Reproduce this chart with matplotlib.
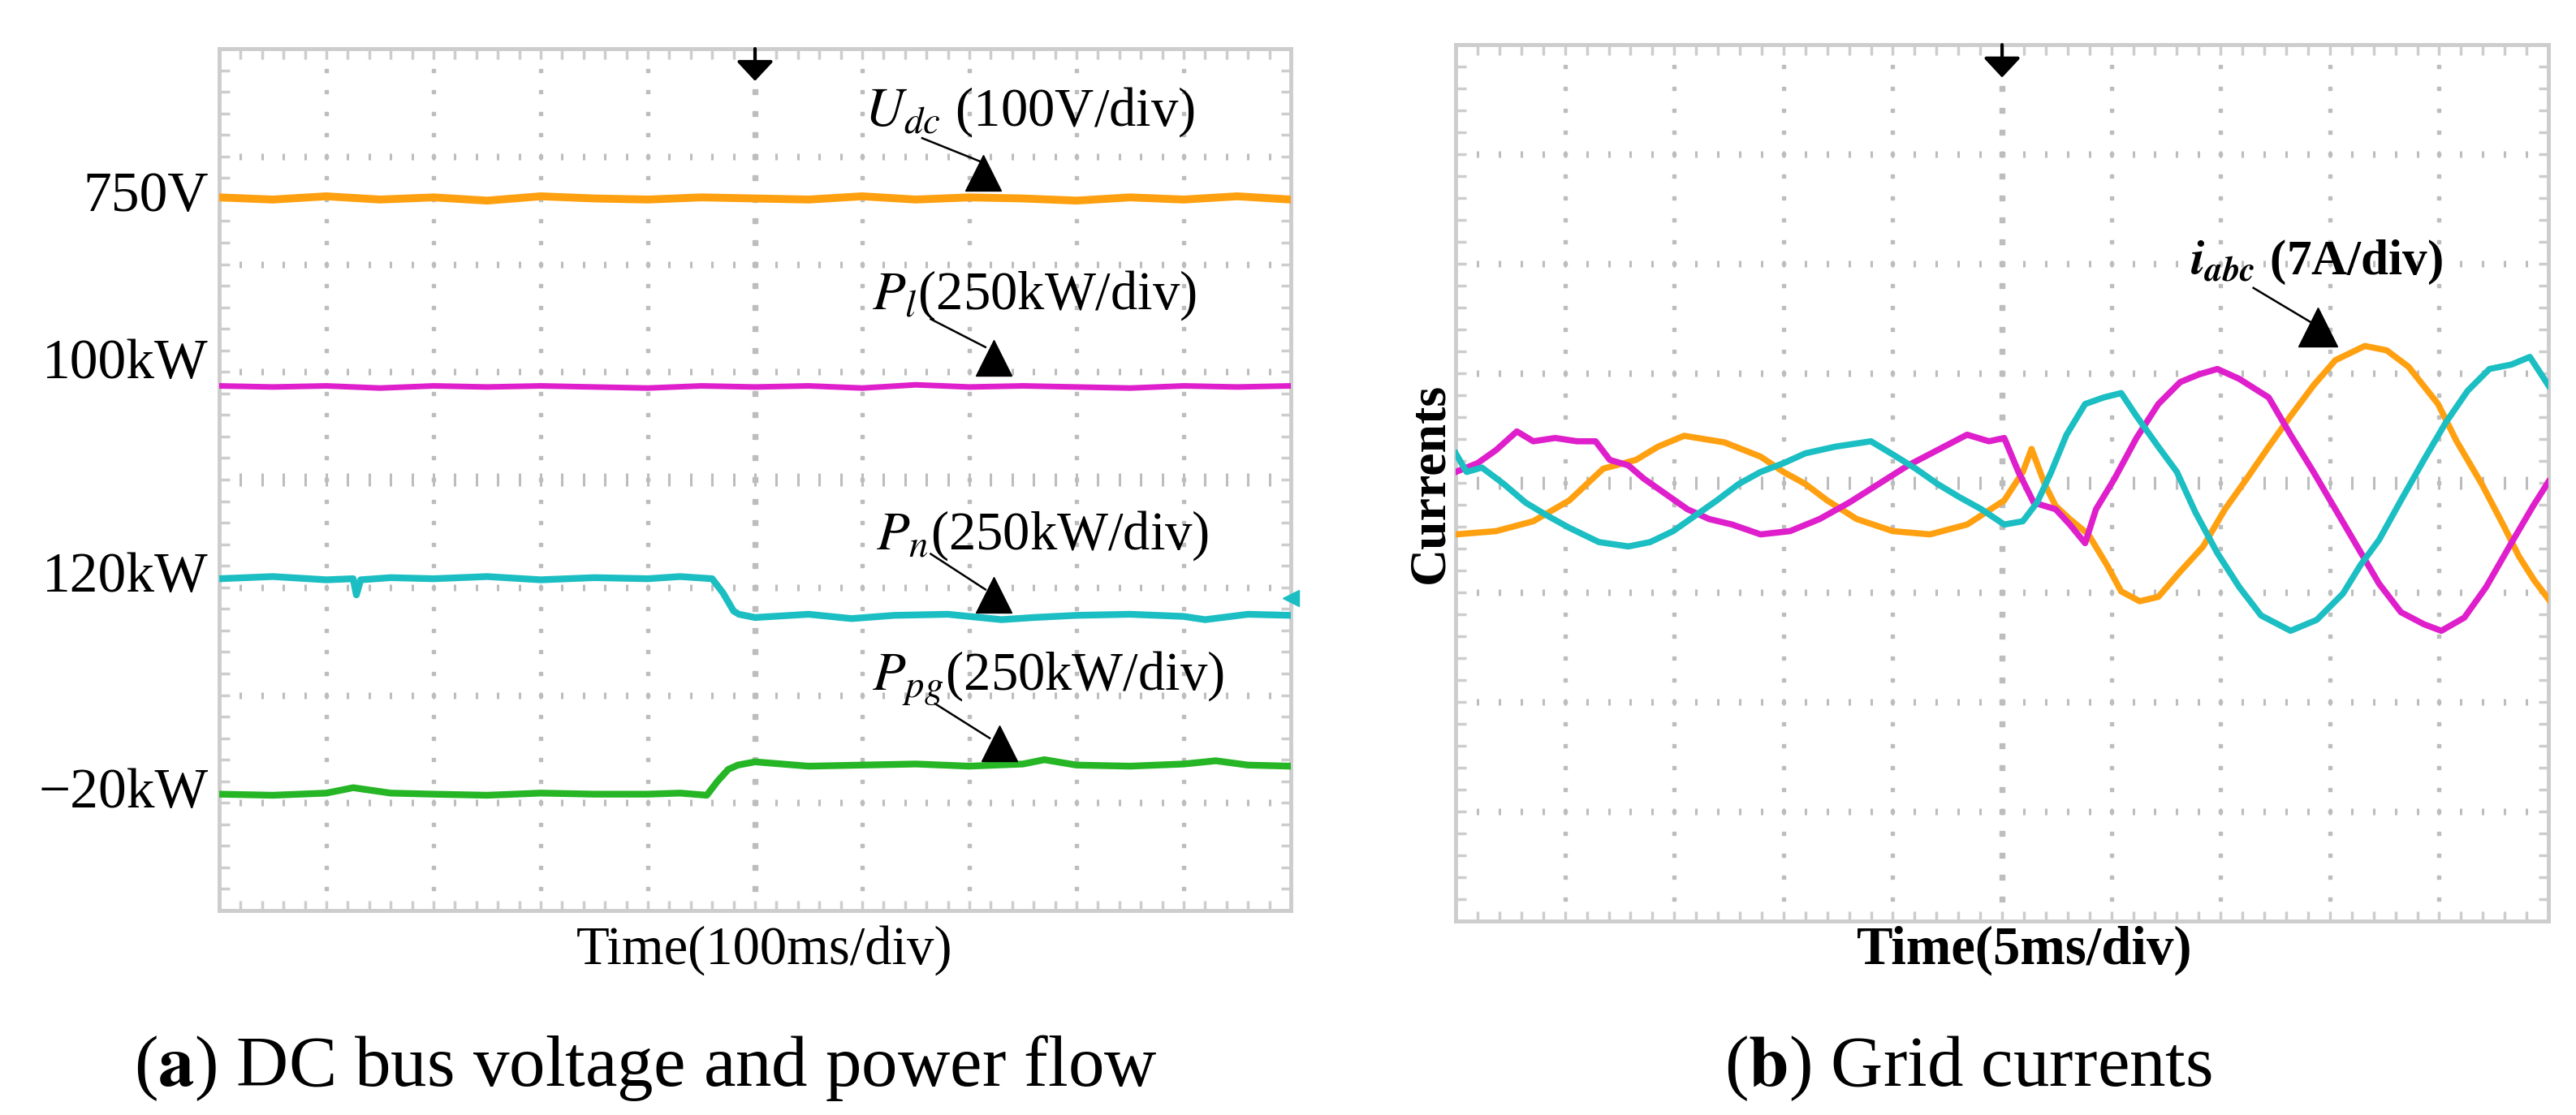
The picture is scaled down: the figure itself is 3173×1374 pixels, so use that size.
import numpy as np
import matplotlib.pyplot as plt

plt.rcParams['font.family'] = ['Liberation Serif', 'DejaVu Serif']
plt.rcParams['mathtext.fontset'] = 'stix'

# ---- (a) DC bus voltage and power flow, values in scope divisions (0..10 x, 0..8 y) ----
udc_t = [0, 0.5, 1, 1.5, 2, 2.5, 3, 3.5, 4, 4.5, 5, 5.5, 6, 6.5, 7, 7.5, 8, 8.5, 9, 9.5, 10]
udc_v = [6.62, 6.60, 6.63, 6.60, 6.62, 6.59, 6.63, 6.61, 6.60, 6.62, 6.61, 6.60, 6.63, 6.60, 6.62,
         6.61, 6.59, 6.62, 6.60, 6.63, 6.60]

pl_t = [0, 0.5, 1, 1.5, 2, 2.5, 3, 3.5, 4, 4.5, 5, 5.5, 6, 6.5, 7, 7.5, 8, 8.5, 9, 9.5, 10]
pl_v = [4.87, 4.86, 4.87, 4.85, 4.87, 4.86, 4.87, 4.86, 4.85, 4.87, 4.86, 4.87, 4.85, 4.88, 4.86,
        4.87, 4.86, 4.85, 4.87, 4.86, 4.87]

pn_t = [0, 0.5, 1.0, 1.25, 1.28, 1.32, 1.6, 2.0, 2.5, 3.0, 3.5, 4.0, 4.3, 4.6, 4.7, 4.8, 4.85,
        5.0, 5.5, 5.9, 6.3, 6.8, 7.3, 7.6, 8.0, 8.5, 9.0, 9.2, 9.6, 10.0]
pn_v = [3.08, 3.10, 3.07, 3.08, 2.93, 3.07, 3.09, 3.08, 3.10, 3.07, 3.09, 3.08, 3.10, 3.08, 2.95,
        2.78, 2.75, 2.72, 2.75, 2.71, 2.74, 2.75, 2.70, 2.72, 2.74, 2.75, 2.73, 2.70, 2.75, 2.74]

ppg_t = [0, 0.5, 1.0, 1.25, 1.6, 2.0, 2.5, 3.0, 3.5, 4.0, 4.3, 4.55, 4.65, 4.75, 4.84, 5.0, 5.5,
         6.0, 6.5, 7.0, 7.5, 7.7, 8.0, 8.5, 9.0, 9.3, 9.6, 10.0]
ppg_v = [1.08, 1.07, 1.09, 1.14, 1.09, 1.08, 1.07, 1.09, 1.08, 1.08, 1.09, 1.07, 1.20, 1.31, 1.35,
         1.38, 1.34, 1.35, 1.36, 1.34, 1.36, 1.40, 1.35, 1.34, 1.36, 1.39, 1.35, 1.34]

level_labels = ['750V', '100kW', '120kW', '\u221220kW']
level_pos = [6.62, 5.07, 3.09, 1.08]

# ---- (b) grid currents, divisions from centre line ----
ia_t = [0.00, 0.37, 0.71, 1.04, 1.35, 1.65, 1.85, 2.09, 2.46, 2.79, 3.00, 3.20, 3.40, 3.67, 4.00,
        4.34, 4.68, 5.02, 5.19, 5.27, 5.39, 5.49, 5.62, 5.79, 5.96, 6.09, 6.26, 6.43, 6.63, 6.84,
        7.04, 7.24, 7.44, 7.64, 7.85, 8.05, 8.32, 8.52, 8.72, 8.99, 9.16, 9.39, 9.60, 9.73, 9.87, 10.0]
ia_v = [-0.47, -0.44, -0.35, -0.16, 0.13, 0.21, 0.33, 0.43, 0.37, 0.24, 0.10, -0.01, -0.16, -0.33,
        -0.44, -0.47, -0.38, -0.16, 0.10, 0.31, -0.01, -0.21, -0.33, -0.47, -0.75, -0.99, -1.08,
        -1.04, -0.81, -0.58, -0.24, 0.04, 0.33, 0.61, 0.89, 1.12, 1.25, 1.21, 1.06, 0.72, 0.38,
        -0.01, -0.41, -0.67, -0.89, -1.06]

ib_t = [0.00, 0.10, 0.24, 0.44, 0.64, 0.84, 1.04, 1.31, 1.58, 1.78, 1.99, 2.19, 2.39, 2.59, 2.79,
        3.00, 3.20, 3.47, 3.80, 4.00, 4.21, 4.41, 4.61, 4.81, 5.02, 5.19, 5.32, 5.45, 5.59, 5.76,
        5.93, 6.09, 6.23, 6.43, 6.60, 6.77, 6.97, 7.17, 7.37, 7.64, 7.88, 8.12, 8.28, 8.45, 8.65,
        8.86, 9.06, 9.26, 9.46, 9.66, 9.83, 10.0]
ib_v = [0.27, 0.10, 0.14, -0.01, -0.18, -0.30, -0.41, -0.54, -0.58, -0.54, -0.44, -0.30, -0.16,
        -0.01, 0.10, 0.18, 0.27, 0.33, 0.38, 0.26, 0.13, -0.01, -0.13, -0.24, -0.38, -0.35, -0.18,
        0.10, 0.44, 0.72, 0.78, 0.82, 0.61, 0.33, 0.10, -0.27, -0.64, -0.95, -1.21, -1.35, -1.25,
        -1.01, -0.75, -0.52, -0.16, 0.21, 0.55, 0.84, 1.04, 1.08, 1.15, 0.89]

ic_t = [0.00, 0.20, 0.37, 0.56, 0.71, 0.91, 1.11, 1.28, 1.41, 1.58, 1.72, 1.92, 2.12, 2.32, 2.53,
        2.79, 3.06, 3.33, 3.60, 3.87, 4.14, 4.41, 4.68, 4.88, 5.02, 5.15, 5.29, 5.49, 5.62, 5.76,
        5.86, 6.03, 6.23, 6.43, 6.63, 6.80, 6.97, 7.17, 7.44, 7.64, 7.85, 8.05, 8.25, 8.45, 8.65,
        8.86, 9.02, 9.23, 9.43, 9.66, 9.86, 10.0]
ic_v = [0.10, 0.18, 0.30, 0.47, 0.38, 0.41, 0.38, 0.38, 0.21, 0.16, 0.04, -0.10, -0.24, -0.33,
        -0.38, -0.47, -0.44, -0.33, -0.18, -0.01, 0.16, 0.30, 0.44, 0.38, 0.41, 0.10, -0.18, -0.24,
        -0.38, -0.55, -0.24, 0.04, 0.41, 0.72, 0.92, 0.99, 1.04, 0.95, 0.78, 0.44, 0.10, -0.24,
        -0.58, -0.92, -1.18, -1.29, -1.35, -1.23, -0.95, -0.55, -0.21, 0.01]

ORANGE = '#FFA010'
PINK = '#DE1FCB'
CYAN = '#1BBEC2'
GREEN = '#25B525'
GRID = '#BDBDBD'
FRAME = '#CDCDCD'


def scope_grid(ax):
    ax.set_xlim(0, 10)
    ax.set_ylim(0, 8)
    ax.set_xticks(np.arange(0, 10.01, 1))
    ax.set_yticks(np.arange(0, 8.01, 1))
    ax.set_xticks(np.arange(0, 10.01, 0.2), minor=True)
    ax.set_yticks(np.arange(0, 8.01, 0.2), minor=True)
    ax.set_xticklabels([])
    ax.set_yticklabels([])
    ax.tick_params(which='both', direction='in', top=True, right=True,
                   length=9, width=2.5, color=FRAME)
    for s in ax.spines.values():
        s.set_color(FRAME)
        s.set_linewidth(3.5)
    fine_y = np.arange(0.2, 7.9, 0.2)
    fine_x = np.arange(0.2, 9.9, 0.2)
    for k in range(1, 10):
        big = k == 5
        ax.plot([k] * len(fine_y), fine_y, ls='none', marker='s',
                ms=5 if big else 3.2, color=GRID, zorder=1)
    for j in range(1, 8):
        big = j == 4
        ax.plot(fine_x, [j] * len(fine_x), ls='none', marker='|',
                ms=11 if big else 6, mew=2.2, color=GRID, zorder=1)
    # trigger marker
    ax.annotate('', xy=(5, 7.7), xytext=(5, 8.0),
                arrowprops=dict(arrowstyle='-|>,head_length=0.75,head_width=0.7',
                                lw=3, color='black', mutation_scale=20, shrinkA=0, shrinkB=0),
                annotation_clip=False)


def pointer(ax, x0, y0, x1, y1, tri_x, tri_y, size=32):
    ax.plot([x0, x1], [y0, y1], color='black', lw=1.8, zorder=6, clip_on=False)
    ax.plot([tri_x], [tri_y], marker='^', ms=size, color='black', zorder=6, clip_on=False)


fig = plt.figure(figsize=(31.73, 13.74), dpi=100)
ax1 = fig.add_axes([0.0851, 0.1834, 0.4160, 0.7729])
ax2 = fig.add_axes([0.5651, 0.1739, 0.4242, 0.7860])

# ---------- panel (a) ----------
scope_grid(ax1)
ax1.plot(udc_t, udc_v, color=ORANGE, lw=7, zorder=3)
ax1.plot(pl_t, pl_v, color=PINK, lw=5, zorder=3)
ax1.plot(pn_t, pn_v, color=CYAN, lw=6, zorder=3)
ax1.plot(ppg_t, ppg_v, color=GREEN, lw=6, zorder=3)
ax1.plot([10.0], [2.9], marker='<', ms=14, color=CYAN, clip_on=False, zorder=4)

for lab, pos in zip(level_labels, level_pos):
    ax1.text(-0.1, pos, lab, ha='right', va='center', fontsize=50, clip_on=False)

ax1.text(6.02, 7.41, r'$U_{dc}$ (100V/div)', fontsize=48, va='center', ha='left')
pointer(ax1, 6.56, 7.17, 7.11, 6.95, 7.13, 6.85)
ax1.text(6.09, 5.71, r'$P_l$(250kW/div)', fontsize=48, va='center', ha='left')
pointer(ax1, 6.64, 5.49, 7.15, 5.23, 7.23, 5.13)
ax1.text(6.13, 3.48, r'$P_n$(250kW/div)', fontsize=48, va='center', ha='left')
pointer(ax1, 6.64, 3.31, 7.15, 2.98, 7.23, 2.93)
ax1.text(6.09, 2.15, r'$P_{pg}$(250kW/div)', fontsize=48, va='center', ha='left')
pointer(ax1, 6.68, 1.92, 7.19, 1.60, 7.28, 1.55)

# ---------- panel (b) ----------
scope_grid(ax2)
ax2.plot(ia_t, [4 + v for v in ia_v], color=ORANGE, lw=5.5, zorder=3)
ax2.plot(ic_t, [4 + v for v in ic_v], color=PINK, lw=5.5, zorder=3)
ax2.plot(ib_t, [4 + v for v in ib_v], color=CYAN, lw=5.5, zorder=3)

ax2.text(6.72, 6.01, r'$\mathbfit{i}_{\mathbfit{abc}}$ (7A/div)', fontsize=44,
         fontweight='bold', va='center', ha='left')
pointer(ax2, 7.30, 5.78, 7.82, 5.47, 7.89, 5.42, size=34)

# ---------- labels and captions ----------
fig.text(0.2966, 0.1477, 'Time(100ms/div)', fontsize=48, ha='center', va='center')
fig.text(0.786, 0.1477, 'Time(5ms/div)', fontsize=48, fontweight='bold', ha='center', va='center')
fig.text(0.5555, 0.567, 'Currents', fontsize=46, fontweight='bold', rotation=90,
         ha='center', va='center')

fig.text(0.2505, 0.042, r'($\mathbf{a}$) DC bus voltage and power flow', fontsize=64,
         ha='center', va='center')
fig.text(0.764, 0.042, r'($\mathbf{b}$) Grid currents', fontsize=64, ha='center', va='center')

fig.savefig('out.png', dpi=100, facecolor='white')
